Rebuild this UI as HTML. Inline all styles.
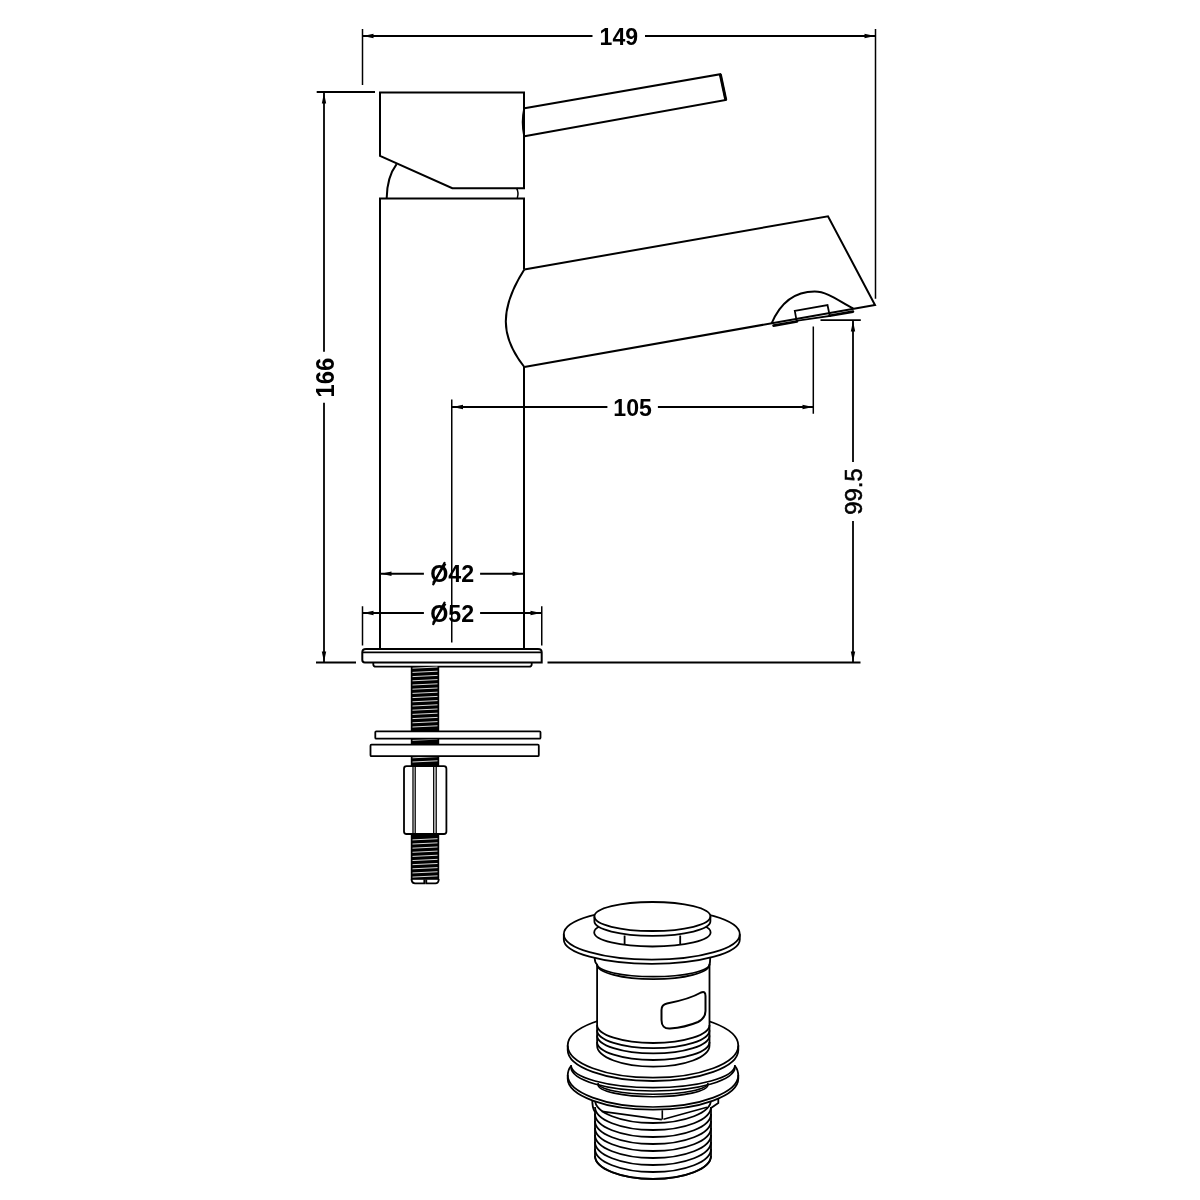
<!DOCTYPE html>
<html><head><meta charset="utf-8"><style>
html,body{margin:0;padding:0;background:#fff;width:1200px;height:1200px;overflow:hidden}
svg{display:block;will-change:transform}
</style></head><body>
<svg width="1200" height="1200" viewBox="0 0 1200 1200">
<rect width="1200" height="1200" fill="#fff"/>
<g fill="none" stroke="#000" stroke-linecap="butt">
<line x1="362.5" y1="29" x2="362.5" y2="85" stroke-width="1.5"/>
<line x1="875.5" y1="29" x2="875.5" y2="298.8" stroke-width="1.5"/>
<line x1="362.5" y1="36" x2="592.5" y2="36" stroke-width="1.8"/>
<line x1="645" y1="36" x2="875.5" y2="36" stroke-width="1.8"/>
<polygon points="363,36 373.50,33.80 373.50,38.20" fill="#000" stroke="none"/>
<polygon points="875,36 864.50,38.20 864.50,33.80" fill="#000" stroke="none"/>
<text x="618.8" y="44.6" font-family='"Liberation Sans", sans-serif' font-size="24.5" font-weight="bold" text-anchor="middle" textLength="38.5" lengthAdjust="spacingAndGlyphs" fill="#000" stroke="none">149</text>
<line x1="316.7" y1="92" x2="375" y2="92" stroke-width="1.8"/>
<line x1="316" y1="662.5" x2="356" y2="662.5" stroke-width="1.8"/>
<line x1="324" y1="92" x2="324" y2="351.7" stroke-width="1.8"/>
<line x1="324" y1="402.7" x2="324" y2="662.5" stroke-width="1.8"/>
<polygon points="324,93 326.20,103.50 321.80,103.50" fill="#000" stroke="none"/>
<polygon points="324,662 321.80,651.50 326.20,651.50" fill="#000" stroke="none"/>
<text x="333.5" y="377.5" font-family='"Liberation Sans", sans-serif' font-size="25" font-weight="bold" text-anchor="middle" textLength="39.8" lengthAdjust="spacingAndGlyphs" fill="#000" stroke="none" transform="rotate(-90 333.5 377.5)">166</text>
<line x1="820.5" y1="320.2" x2="860.8" y2="320.2" stroke-width="1.8"/>
<line x1="547.5" y1="662.5" x2="860.5" y2="662.5" stroke-width="1.8"/>
<line x1="853" y1="320.2" x2="853" y2="462" stroke-width="1.8"/>
<line x1="853" y1="521" x2="853" y2="662.5" stroke-width="1.8"/>
<polygon points="853,321 855.20,331.50 850.80,331.50" fill="#000" stroke="none"/>
<polygon points="853,662 850.80,651.50 855.20,651.50" fill="#000" stroke="none"/>
<text x="861.5" y="491.5" font-family='"Liberation Sans", sans-serif' font-size="23" font-weight="normal" text-anchor="middle" textLength="46.4" lengthAdjust="spacingAndGlyphs" fill="#000" stroke="#000" stroke-width="0.55" transform="rotate(-90 861.5 491.5)">99.5</text>
<line x1="451.75" y1="399.5" x2="451.75" y2="642.5" stroke-width="1.5"/>
<line x1="813.3" y1="326.5" x2="813.3" y2="413.75" stroke-width="1.5"/>
<line x1="451.75" y1="407" x2="607.4" y2="407" stroke-width="1.8"/>
<line x1="657.9" y1="407" x2="813.3" y2="407" stroke-width="1.8"/>
<polygon points="452.5,407 463.00,404.80 463.00,409.20" fill="#000" stroke="none"/>
<polygon points="813,407 802.50,409.20 802.50,404.80" fill="#000" stroke="none"/>
<text x="632.6" y="415.7" font-family='"Liberation Sans", sans-serif' font-size="24.5" font-weight="bold" text-anchor="middle" textLength="38.6" lengthAdjust="spacingAndGlyphs" fill="#000" stroke="none">105</text>
<line x1="380" y1="573.75" x2="423.9" y2="573.75" stroke-width="1.8"/>
<line x1="480.1" y1="573.75" x2="524" y2="573.75" stroke-width="1.8"/>
<polygon points="381,573.75 391.50,571.55 391.50,575.95" fill="#000" stroke="none"/>
<polygon points="523,573.75 512.50,575.95 512.50,571.55" fill="#000" stroke="none"/>
<text x="452.2" y="582" font-family='"Liberation Sans", sans-serif' font-size="24.5" font-weight="bold" text-anchor="middle" textLength="43.9" lengthAdjust="spacingAndGlyphs" fill="#000" stroke="none">Ø42</text>
<line x1="433.3" y1="584.2" x2="444.5" y2="563" stroke-width="2.4" stroke-linecap="round"/>
<line x1="362.5" y1="606.25" x2="362.5" y2="645.5" stroke-width="1.5"/>
<line x1="541.75" y1="606.25" x2="541.75" y2="645.5" stroke-width="1.5"/>
<line x1="362.5" y1="613" x2="423.9" y2="613" stroke-width="1.8"/>
<line x1="480.1" y1="613" x2="541.75" y2="613" stroke-width="1.8"/>
<polygon points="363,613 373.50,610.80 373.50,615.20" fill="#000" stroke="none"/>
<polygon points="541,613 530.50,615.20 530.50,610.80" fill="#000" stroke="none"/>
<text x="452.2" y="621.8" font-family='"Liberation Sans", sans-serif' font-size="24.5" font-weight="bold" text-anchor="middle" textLength="43.9" lengthAdjust="spacingAndGlyphs" fill="#000" stroke="none">Ø52</text>
<line x1="433.3" y1="624" x2="444.5" y2="602.8" stroke-width="2.4" stroke-linecap="round"/>
<g stroke-width="2.0">
<path d="M380,92.5 L524,92.5 L524,188.2 L452.3,188.2 L380,155.9 Z" stroke-linejoin="miter"/>
<path d="M524.5,108.3 L720.3,74.2 L725.8,100 L524.5,136.3"/>
<path d="M720.3,74.2 L725.8,100" stroke-width="3"/>
<path d="M524,108.3 Q521,122 524,136.3" stroke-width="1.5"/>
<path d="M396.6,164.1 Q387,177 386.7,198"/>
<path d="M516.6,188.2 Q519,193 517.3,198" stroke-width="1.5"/>
<path d="M380,648 L380,198.4 L524,198.4 L524,269.5 M524,367 L524,648"/>
<path d="M524.3,269.5 L828,216.25 L875,305 L524.3,367"/>
<path d="M524.3,269.5 C515,284 505.8,302 505.8,321.5 C505.8,339 514,354 524.3,367"/>
<path d="M771.5,323.7 C779,306 791,291.6 814.7,291.6 C828,291.6 840,302 853.2,308.5"/>
<path d="M794.8,310.8 L827.5,305 L829.8,316 L796.6,320.8 Z" stroke-width="1.8"/>
<path d="M773.5,325.6 L797,321.5 M829.5,315.8 L853,311.6" stroke-width="2.6" stroke-linecap="round"/>
<path d="M362.3,652.3 L362.3,660 Q362.3,662.4 364.8,662.4 L541.7,662.4 L541.7,652.3 Q541.7,648.9 538,648.9 L366,648.9 Q362.3,648.9 362.3,652.3" stroke-width="2"/>
<line x1="362.3" y1="652.3" x2="541.7" y2="652.3" stroke-width="1.8"/>
<path d="M373.3,662.5 L373.3,664.5 Q373.3,666.7 376,666.7 L529,666.7 Q531.7,666.7 531.7,664.5 L531.7,662.5" stroke-width="1.8"/>
</g>
<rect x="410.8" y="666.7" width="28.4" height="64.59999999999991" fill="#000" stroke="none"/>
<line x1="412.5" y1="668.20" x2="437.5" y2="667.00" stroke="#fff" stroke-width="0.85"/>
<line x1="412.5" y1="672.40" x2="437.5" y2="671.20" stroke="#fff" stroke-width="0.85"/>
<line x1="412.5" y1="676.60" x2="437.5" y2="675.40" stroke="#fff" stroke-width="0.85"/>
<line x1="412.5" y1="680.80" x2="437.5" y2="679.60" stroke="#fff" stroke-width="0.85"/>
<line x1="412.5" y1="685.00" x2="437.5" y2="683.80" stroke="#fff" stroke-width="0.85"/>
<line x1="412.5" y1="689.20" x2="437.5" y2="688.00" stroke="#fff" stroke-width="0.85"/>
<line x1="412.5" y1="693.40" x2="437.5" y2="692.20" stroke="#fff" stroke-width="0.85"/>
<line x1="412.5" y1="697.60" x2="437.5" y2="696.40" stroke="#fff" stroke-width="0.85"/>
<line x1="412.5" y1="701.80" x2="437.5" y2="700.60" stroke="#fff" stroke-width="0.85"/>
<line x1="412.5" y1="706.00" x2="437.5" y2="704.80" stroke="#fff" stroke-width="0.85"/>
<line x1="412.5" y1="710.20" x2="437.5" y2="709.00" stroke="#fff" stroke-width="0.85"/>
<line x1="412.5" y1="714.40" x2="437.5" y2="713.20" stroke="#fff" stroke-width="0.85"/>
<line x1="412.5" y1="718.60" x2="437.5" y2="717.40" stroke="#fff" stroke-width="0.85"/>
<line x1="412.5" y1="722.80" x2="437.5" y2="721.60" stroke="#fff" stroke-width="0.85"/>
<line x1="412.5" y1="727.00" x2="437.5" y2="725.80" stroke="#fff" stroke-width="0.85"/>
<rect x="410.8" y="738.7" width="28.4" height="6.0" fill="#000" stroke="none"/>
<line x1="412.5" y1="740.30" x2="437.5" y2="739.10" stroke="#fff" stroke-width="0.85"/>
<rect x="410.8" y="756.2" width="28.4" height="10.299999999999955" fill="#000" stroke="none"/>
<line x1="412.5" y1="757.80" x2="437.5" y2="756.60" stroke="#fff" stroke-width="0.85"/>
<line x1="412.5" y1="762.00" x2="437.5" y2="760.80" stroke="#fff" stroke-width="0.85"/>
<rect x="410.8" y="833" width="28.4" height="46.799999999999955" fill="#000" stroke="none"/>
<line x1="412.5" y1="839.90" x2="437.5" y2="838.70" stroke="#fff" stroke-width="0.85"/>
<line x1="412.5" y1="844.03" x2="437.5" y2="842.83" stroke="#fff" stroke-width="0.85"/>
<line x1="412.5" y1="848.16" x2="437.5" y2="846.96" stroke="#fff" stroke-width="0.85"/>
<line x1="412.5" y1="852.29" x2="437.5" y2="851.09" stroke="#fff" stroke-width="0.85"/>
<line x1="412.5" y1="856.42" x2="437.5" y2="855.22" stroke="#fff" stroke-width="0.85"/>
<line x1="412.5" y1="860.55" x2="437.5" y2="859.35" stroke="#fff" stroke-width="0.85"/>
<line x1="412.5" y1="864.68" x2="437.5" y2="863.48" stroke="#fff" stroke-width="0.85"/>
<line x1="412.5" y1="868.81" x2="437.5" y2="867.61" stroke="#fff" stroke-width="0.85"/>
<line x1="412.5" y1="872.94" x2="437.5" y2="871.74" stroke="#fff" stroke-width="0.85"/>
<line x1="412.5" y1="877.07" x2="437.5" y2="875.87" stroke="#fff" stroke-width="0.85"/>
<g stroke-width="1.8">
<rect x="375.3" y="731.3" width="165.2" height="7.4" rx="1"/>
<rect x="370.5" y="744.7" width="168.3" height="11.5" rx="1"/>
<rect x="404" y="766.2" width="42.4" height="67.8" rx="2.5" fill="#fff"/>
<line x1="413" y1="766" x2="413" y2="835" stroke-width="1.3"/>
<line x1="415.2" y1="766" x2="415.2" y2="835" stroke-width="1.3"/>
<line x1="433.7" y1="766" x2="433.7" y2="835" stroke-width="1.3"/>
<line x1="436.2" y1="766" x2="436.2" y2="835" stroke-width="1.3"/>
</g>
<path d="M411.7,879 L411.7,880.5 Q412.3,883.3 415,883.3 L424.3,883.3 L424.3,879.5 M426.3,879.5 L426.3,883.3 L435.5,883.3 Q438.3,883.3 438.6,880.5 L438.6,879" stroke-width="1.8"/>
<g>
<path d="M592.3,1098 Q592,1108 595,1112 L595,1155.8 A58,23 0 0 0 711,1155.8 L711,1108 L718.3,1103 L718.3,1098" fill="#fff" stroke-width="1.8"/>
<path d="M595.00,1100.00 A58,23 0 0 0 711.00,1100.00" stroke-width="1.8"/>
<path d="M595.00,1107.00 A58,23 0 0 0 711.00,1107.00" stroke-width="1.8"/>
<path d="M595.00,1114.00 A58,23 0 0 0 711.00,1114.00" stroke-width="1.8"/>
<path d="M595.00,1121.00 A58,23 0 0 0 711.00,1121.00" stroke-width="1.8"/>
<path d="M595.00,1128.00 A58,23 0 0 0 711.00,1128.00" stroke-width="1.8"/>
<path d="M595.00,1135.00 A58,23 0 0 0 711.00,1135.00" stroke-width="1.8"/>
<path d="M595.00,1142.00 A58,23 0 0 0 711.00,1142.00" stroke-width="1.8"/>
<path d="M595.00,1149.00 A58,23 0 0 0 711.00,1149.00" stroke-width="1.8"/>
<path d="M595.00,1156.00 A58,23 0 0 0 711.00,1156.00" stroke-width="1.8"/>
<path d="M601.7,1111.4 L661.8,1119.6 M663.5,1119.3 L707,1107.3 M662.3,1110.2 L662.3,1119.6" stroke-width="1.6"/>
<path d="M571,1066 Q567.7,1070 567.7,1076 L567.7,1078.5 A85.3,31.2 0 0 0 738.3,1078.5 L738.3,1076 Q738.3,1070 735,1066 Z" fill="#fff" stroke="none"/>
<path d="M571,1066 Q567.7,1070 567.7,1076 L567.7,1078.5 A85.3,31.2 0 0 0 738.3,1078.5 L738.3,1076 Q738.3,1070 735,1066" stroke-width="1.8"/>
<path d="M567.70,1075.00 A85.3,32 0 0 0 738.30,1075.00" stroke-width="1.7"/>
<path d="M571.00,1065.00 A82,22.7 0 0 0 735.00,1065.00" stroke-width="1.7"/>
<path d="M571.00,1067.00 A82,24 0 0 0 735.00,1067.00" stroke-width="1.7"/>
<path d="M598.00,1083.00 A55,11.3 0 0 0 708.00,1083.00" stroke-width="1.6"/>
<path d="M598.00,1084.50 A55,12.2 0 0 0 708.00,1084.50" stroke-width="1.6"/>
<path d="M567.70,1045.50 A85.3,32.2 0 0 1 738.30,1045.50 L738.30,1050.00 A85.3,31 0 0 1 567.70,1050.00 Z" fill="#fff" stroke-width="1.8"/>
<path d="M567.70,1045.50 A85.3,32.2 0 0 0 738.30,1045.50" stroke-width="1.8"/>
<path d="M597.1,958 L597.1,1045.5 A56.2,21.2 0 0 0 709.5,1045.5 L709.5,958 Z" fill="#fff" stroke-width="1.8"/>
<path d="M597.10,1025.00 A56.2,18 0 0 0 709.50,1025.00" stroke-width="1.8"/>
<path d="M597.10,1030.20 A56.2,18 0 0 0 709.50,1030.20" stroke-width="1.8"/>
<path d="M597.10,1035.40 A56.2,18 0 0 0 709.50,1035.40" stroke-width="1.8"/>
<path d="M597.10,1042.00 A56.2,18 0 0 0 709.50,1042.00" stroke-width="1.8"/>
<path d="M661.5,1010 Q661.5,1004.5 667,1003.5 Q690,999 701,992.5 Q705.5,990.5 705.5,996 L705.5,1011 Q705.5,1018 698,1022 Q685,1027.5 670,1028.5 Q661.5,1029 661.5,1020 Z" stroke-width="2"/>
<path d="M594.7,955 L594.7,958.5 Q595,963 597.1,964.5 L709.5,964.5 Q710,963 710.2,958.5 L710.2,955 Z" fill="#fff" stroke="none"/>
<path d="M594.7,955 L594.7,958.5 Q595,963 597.1,964.5 M710.2,955 L710.2,958.5 Q710,963 709.5,964.5" stroke-width="1.8"/>
<path d="M597.10,964.00 A56.2,12.7 0 0 0 709.50,964.00" stroke-width="1.7"/>
<path d="M597.10,964.50 A56.2,14.7 0 0 0 709.50,964.50" stroke-width="1.7"/>
<path d="M563.80,934.20 A88,25.5 0 0 1 739.80,934.20 L739.80,939.50 A88,24.3 0 0 1 563.80,939.50 Z" fill="#fff" stroke-width="1.8"/>
<path d="M563.80,934.20 A88,25.5 0 0 0 739.80,934.20" stroke-width="1.8"/>
<path d="M600,926.5 Q594.2,928.5 594.2,932.5 A58.2,14 0 0 0 710.6,932.5 Q710.6,928.5 704.8,926.5" fill="#fff" stroke-width="1.8"/>
<line x1="624.6" y1="935.5" x2="624.6" y2="944.5" stroke-width="1.8"/>
<line x1="680.2" y1="935.5" x2="680.2" y2="944.5" stroke-width="1.8"/>
<path d="M594.40,916.50 A58,14.5 0 0 1 710.40,916.50 L710.40,921.30 A58,14.5 0 0 1 594.40,921.30 Z" fill="#fff" stroke-width="1.8"/>
<path d="M594.40,916.50 A58,14.5 0 0 0 710.40,916.50" stroke-width="1.8"/>
</g>
</g>
</svg>
</body></html>
